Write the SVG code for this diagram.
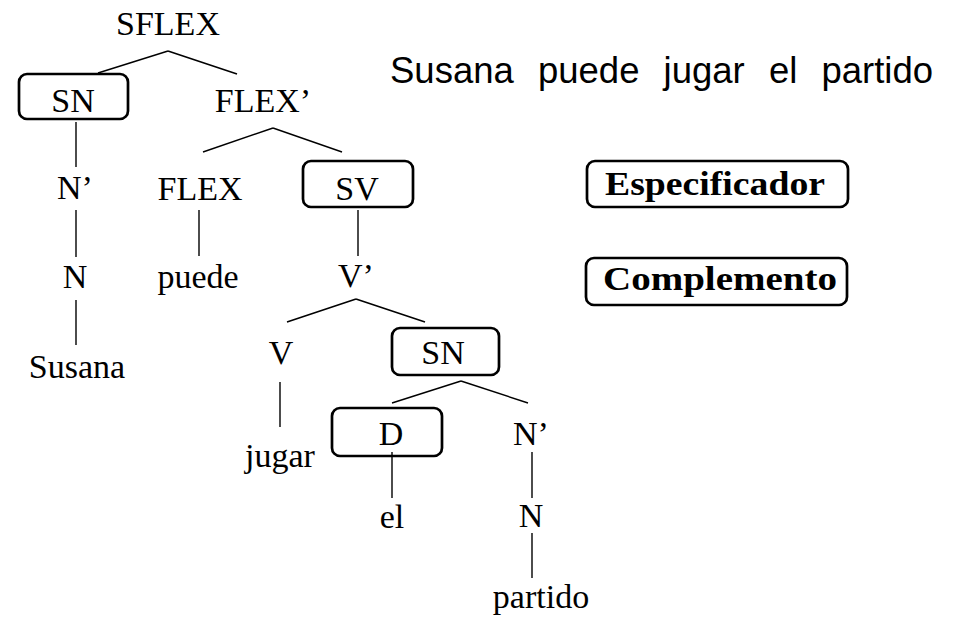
<svg xmlns="http://www.w3.org/2000/svg" width="963" height="618" viewBox="0 0 963 618">
<style>
.t{font-family:"Liberation Serif","Times New Roman",serif;font-size:34px;fill:#000;text-anchor:middle}
.b{font-family:"Liberation Serif","Times New Roman",serif;font-size:33px;font-weight:bold;fill:#000;text-anchor:middle}
.box{fill:none;stroke:#000;stroke-width:2.7}
.c line{stroke:#000;stroke-width:1.4}
</style>
<rect width="963" height="618" fill="#fff"/>
<text x="390" y="83" font-family="'Liberation Sans',Arial,sans-serif" font-size="36.5" word-spacing="14">Susana puede jugar el partido</text>
<g id="SFLEX"><text class="t" x="168" y="35">SFLEX</text></g>
<g id="SN1"><rect class="box" x="19" y="74" width="109" height="45" rx="8"/><text class="t" x="73" y="112">SN</text></g>
<g id="FLEXbar"><text class="t" x="263" y="112">FLEX’</text></g>
<g id="Nbar1"><text class="t" x="75" y="199">N’</text></g>
<g id="N1"><text class="t" x="75" y="288">N</text></g>
<g id="Susana"><text class="t" x="77" y="378">Susana</text></g>
<g id="FLEX"><text class="t" x="200" y="200">FLEX</text></g>
<g id="SV"><rect class="box" x="303" y="161" width="110" height="46" rx="8"/><text class="t" x="357" y="200">SV</text></g>
<g id="puede"><text class="t" x="198" y="288">puede</text></g>
<g id="Vbar"><text class="t" x="356" y="287">V’</text></g>
<g id="V"><text class="t" x="281" y="364">V</text></g>
<g id="SN2"><rect class="box" x="392" y="328" width="107" height="47" rx="8"/><text class="t" x="443" y="364">SN</text></g>
<g id="jugar"><text class="t" x="280" y="467">jugar</text></g>
<g id="D"><rect class="box" x="332" y="408" width="110" height="48" rx="8"/><text class="t" x="391" y="445">D</text></g>
<g id="Nbar2"><text class="t" x="531" y="445">N’</text></g>
<g id="el"><text class="t" x="392" y="528">el</text></g>
<g id="N2"><text class="t" x="531" y="527">N</text></g>
<g id="partido"><text class="t" x="541" y="608">partido</text></g>
<g id="Especificador"><rect class="box" x="587" y="161" width="261" height="46" rx="8"/><text class="b" x="715" y="195" textLength="220" lengthAdjust="spacingAndGlyphs">Especificador</text></g>
<g id="Complemento"><rect class="box" x="586" y="258" width="261" height="47" rx="8"/><text class="b" x="720" y="290" textLength="234" lengthAdjust="spacingAndGlyphs">Complemento</text></g>
<g id="connectors" class="c">
<line x1="168" y1="51" x2="98" y2="73"/>
<line x1="168" y1="51" x2="237" y2="74"/>
<line x1="76" y1="122" x2="76" y2="167"/>
<line x1="76" y1="210" x2="76" y2="257"/>
<line x1="76" y1="300" x2="76" y2="345"/>
<line x1="273" y1="128" x2="203" y2="152"/>
<line x1="273" y1="128" x2="342" y2="152"/>
<line x1="199" y1="210" x2="199" y2="256"/>
<line x1="358" y1="210" x2="358" y2="256"/>
<line x1="356" y1="299" x2="287" y2="322"/>
<line x1="356" y1="299" x2="425" y2="322"/>
<line x1="280" y1="382" x2="280" y2="427"/>
<line x1="461" y1="381" x2="392" y2="403"/>
<line x1="461" y1="381" x2="528" y2="403"/>
<line x1="392" y1="452" x2="392" y2="498"/>
<line x1="532" y1="452" x2="532" y2="498"/>
<line x1="532" y1="533" x2="532" y2="578"/>
</g>
</svg>
